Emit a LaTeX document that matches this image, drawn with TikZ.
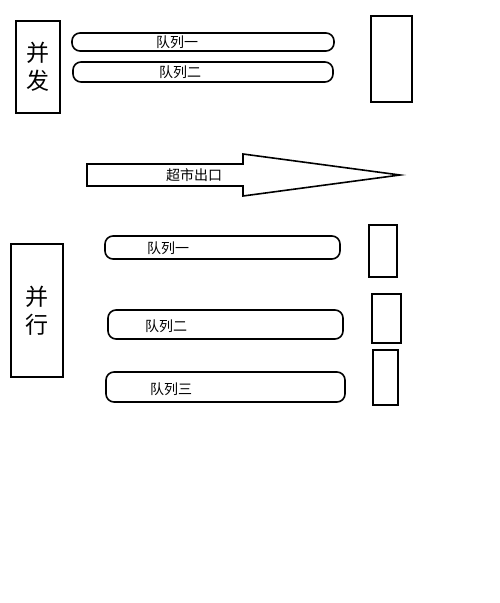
\documentclass[tikz,border=0pt]{standalone}
\usepackage{fontspec}
\setmainfont{Noto Sans CJK SC}
\begin{document}
\begin{tikzpicture}[x=1pt,y=-1pt,line width=1.6pt,
  bar/.style={draw,rounded corners=8pt,inner sep=0pt},
  box/.style={draw,inner sep=0pt},
  lbl/.style={font=\fontsize{14}{14}\selectfont,inner sep=0pt},
  big/.style={font=\fontsize{23}{28}\selectfont,align=center,inner sep=0pt}]
  \useasboundingbox (0,0) rectangle (500,603);
  % top group
  \node (bf) [box,minimum width=44pt,minimum height=92pt] at (38,67) {};
  \node at (bf.center) [big] {并\\发};
  \node (q1) [bar,minimum width=262pt,minimum height=18pt] at (203,42) {};
  \node (q2) [bar,minimum width=260pt,minimum height=20pt] at (203,72) {};
  \node at (177,42) [lbl] {队列一};
  \node at (180,72) [lbl] {队列二};
  \node (r1) [box,minimum width=41pt,minimum height=86pt] at (391.5,59) {};
  % exit arrow
  \draw (87,164) -- (243,164) -- (243,154) -- (400,175) -- (243,196) -- (243,186) -- (87,186) -- cycle;
  \node (exit) at (194,175) [lbl] {超市出口};
  % bottom group
  \node (bx) [box,minimum width=52pt,minimum height=133pt] at (37,310.5) {};
  \node at (bx.center) [big] {并\\行};
  \node (p1) [bar,minimum width=235pt,minimum height=23pt] at (222.5,247.5) {};
  \node (p2) [bar,minimum width=235pt,minimum height=29pt] at (225.5,324.5) {};
  \node (p3) [bar,minimum width=239pt,minimum height=30pt] at (225.5,387) {};
  \node at (168,248) [lbl] {队列一};
  \node at (166,326) [lbl] {队列二};
  \node at (171,389) [lbl] {队列三};
  \node (s1) [box,minimum width=28pt,minimum height=52pt] at (383,251) {};
  \node (s2) [box,minimum width=29pt,minimum height=49pt] at (386.5,318.5) {};
  \node (s3) [box,minimum width=25pt,minimum height=55pt] at (385.5,377.5) {};
\end{tikzpicture}
\end{document}
